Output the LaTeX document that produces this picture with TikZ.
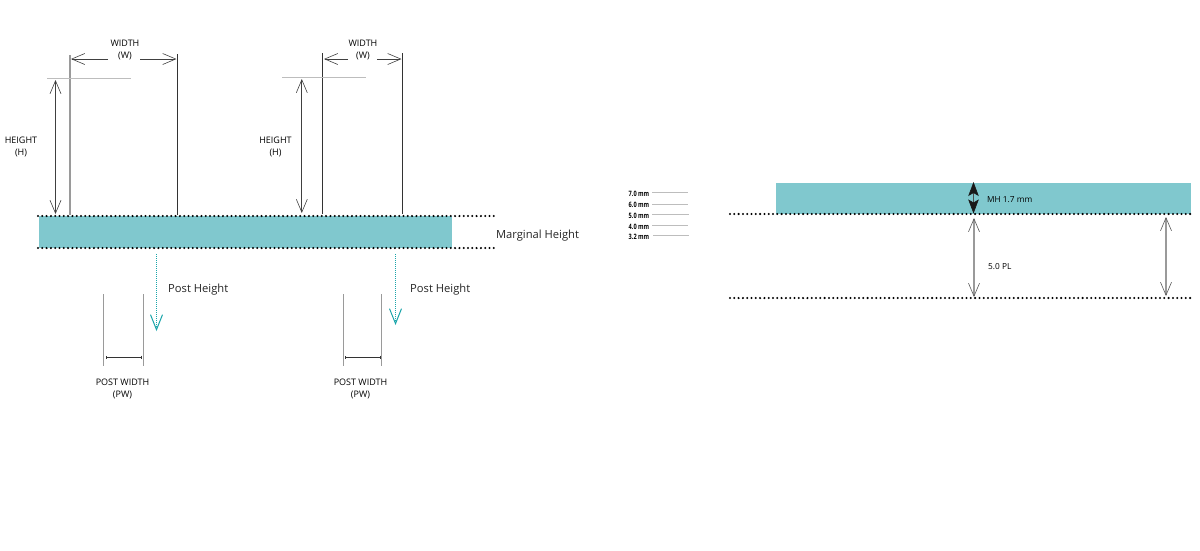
\documentclass[tikz,border=0pt]{standalone}
\usepackage{fontspec}
\setmainfont{Open Sans}
\usetikzlibrary{arrows.meta}
\definecolor{bandteal}{HTML}{80C8CE}
\definecolor{postteal}{HTML}{1AA5AA}
\definecolor{rulegray}{HTML}{BDBDBD}
\definecolor{inkgray}{HTML}{9A9A9A}
\tikzstyle{band} = [fill=bandteal, draw=none, inner sep=0pt, minimum height=32pt]
\tikzstyle{dots} = [line width=2.3pt, line cap=round, dash pattern=on 0pt off 4.3pt, black]
\tikzstyle{wall} = [line width=.7pt, black!80]
\tikzstyle{graywall} = [line width=1.2pt, inkgray]
\tikzstyle{guide} = [line width=.6pt, rulegray]
\tikzstyle{open} = [line width=.7pt, black!75, {Straight Barb[length=13pt,width=11pt,line width=.6pt]}-{Straight Barb[length=13pt,width=11pt,line width=.6pt]}]
\tikzstyle{opento} = [line width=.7pt, black!75, -{Straight Barb[length=13pt,width=11pt,line width=.6pt]}]
\tikzstyle{grayopen} = [line width=1.1pt, inkgray, {Straight Barb[length=13pt,width=11pt,line width=.6pt,black!65]}-{Straight Barb[length=13pt,width=11pt,line width=.6pt,black!65]}]
\tikzstyle{postarrow} = [line width=1pt, postteal, densely dotted, -{Straight Barb[length=15pt,width=12pt,line width=1pt]}]
\tikzstyle{tiny} = [inner sep=0pt, font=\fontsize{9}{12}\selectfont, align=center, black]
\tikzstyle{small} = [inner sep=0pt, font=\fontsize{8.3}{12}\selectfont, black]
\tikzstyle{big} = [inner sep=0pt, font=\fontsize{11.2}{13}\selectfont, black!85]
\tikzstyle{mm} = [inner sep=0pt, font=\fontsize{7.4}{8}\selectfont\bfseries, black]

\begin{document}
\begin{tikzpicture}[x=1pt, y=-1pt]
    \useasboundingbox (0,0) rectangle (1200,550);

    % left: bands
    \node [band, minimum width=413pt] (mband) at (245.5,232) {};
    \coordinate (topl) at (38,216);
    \coordinate (topr) at (496,216);
    \coordinate (botl) at (38,248);
    \coordinate (botr) at (496,248);
    \draw [dots] (topl) -- (topr);
    \draw [dots] (botl) -- (botr);
    \node [big] (marginal) at (537.5,235.5) {Marginal Height};

    % first tooth
    \coordinate (a1t) at (70,55);
    \coordinate (a1b) at (70,215);
    \coordinate (a2t) at (177,54);
    \coordinate (a2b) at (177,215);
    \draw [graywall] (a1t) -- (a1b);
    \draw [wall] (a2t) -- (a2b);
    \node [tiny] (widtha) at (125,49.5) {WIDTH\\(W)};
    \coordinate (wa1) at (108,59);
    \coordinate (wa2) at (71,59);
    \coordinate (wa3) at (140,59);
    \coordinate (wa4) at (176.5,59);
    \draw [opento] (wa1) -- (wa2);
    \draw [opento] (wa3) -- (wa4);
    \coordinate (ga1) at (47,78.5);
    \coordinate (ga2) at (131,78.5);
    \draw [guide] (ga1) -- (ga2);
    \coordinate (ha1) at (55.5,80);
    \coordinate (ha2) at (55.5,214);
    \draw [open] (ha1) -- (ha2);
    \node [tiny] (heighta) at (21,146.5) {HEIGHT\\(H)};

    % second tooth
    \coordinate (b1t) at (322.5,53);
    \coordinate (b1b) at (322.5,214);
    \coordinate (b2t) at (402.5,53);
    \coordinate (b2b) at (402.5,214);
    \draw [wall] (b1t) -- (b1b);
    \draw [wall] (b2t) -- (b2b);
    \node [tiny] (widthb) at (363,49.5) {WIDTH\\(W)};
    \coordinate (wb1) at (348,59);
    \coordinate (wb2) at (324,59);
    \coordinate (wb3) at (377,59);
    \coordinate (wb4) at (401.5,59);
    \draw [opento] (wb1) -- (wb2);
    \draw [opento] (wb3) -- (wb4);
    \coordinate (gb1) at (282,77.5);
    \coordinate (gb2) at (366,77.5);
    \draw [guide] (gb1) -- (gb2);
    \coordinate (hb1) at (301.8,79);
    \coordinate (hb2) at (301.8,213);
    \draw [open] (hb1) -- (hb2);
    \node [tiny] (heightb) at (275.5,146.5) {HEIGHT\\(H)};

    % posts
    \coordinate (pa1) at (156.5,254);
    \coordinate (pa2) at (156.5,331);
    \draw [postarrow] (pa1) -- (pa2);
    \node [big, anchor=west] (posta) at (168,289.5) {Post Height};
    \coordinate (pb1) at (395.5,254);
    \coordinate (pb2) at (395.5,325);
    \draw [postarrow] (pb1) -- (pb2);
    \node [big, anchor=west] (postb) at (410,289.5) {Post Height};

    \coordinate (qa1t) at (103.5,294);
    \coordinate (qa1b) at (103.5,366);
    \coordinate (qa2t) at (143.5,294);
    \coordinate (qa2b) at (143.5,366);
    \draw [graywall, line width=.9pt] (qa1t) -- (qa1b);
    \draw [graywall, line width=.9pt] (qa2t) -- (qa2b);
    \coordinate (ra1) at (106,357);
    \coordinate (ra2) at (141,357);
    \draw [wall, line width=.5pt, {Bar[width=3pt]}-{Bar[width=3pt]}] (ra1) -- (ra2);
    \node [tiny] (pwa) at (122.5,389) {POST WIDTH\\(PW)};

    \coordinate (qb1t) at (343,294);
    \coordinate (qb1b) at (343,366);
    \coordinate (qb2t) at (381,294);
    \coordinate (qb2b) at (381,366);
    \draw [graywall, line width=.9pt] (qb1t) -- (qb1b);
    \draw [graywall, line width=.9pt] (qb2t) -- (qb2b);
    \coordinate (rb1) at (345,357);
    \coordinate (rb2) at (380,357);
    \draw [wall, line width=.5pt, {Bar[width=3pt]}-{Bar[width=3pt]}] (rb1) -- (rb2);
    \node [tiny] (pwb) at (360.5,389) {POST WIDTH\\(PW)};

    % scale
    \node [mm] (m70) at (639,193.5) {\scalebox{.76}[1]{7.0 mm}};
    \node [mm] (m60) at (639,204.5) {\scalebox{.76}[1]{6.0 mm}};
    \node [mm] (m50) at (639,215.5) {\scalebox{.76}[1]{5.0 mm}};
    \node [mm] (m40) at (639,226.5) {\scalebox{.76}[1]{4.0 mm}};
    \node [mm] (m32) at (639,236.5) {\scalebox{.76}[1]{3.2 mm}};
    \coordinate (s70) at (688,192.5);
    \coordinate (s60) at (688,204);
    \coordinate (s50) at (688.5,214.5);
    \coordinate (s40) at (688,225);
    \coordinate (s32) at (689,235);
    \draw [guide] (652,192.5) -- (s70);
    \draw [guide] (652,204) -- (s60);
    \draw [guide] (652,214.5) -- (s50);
    \draw [guide] (652,225) -- (s40);
    \draw [guide] (653,235) -- (s32);

    % right: band
    \node [band, minimum width=415pt, minimum height=31pt] (rband) at (983.5,198.5) {};
    \coordinate (rtopl) at (730,214);
    \coordinate (rtopr) at (1191,214);
    \coordinate (rbotl) at (730,298);
    \coordinate (rbotr) at (1191,298);
    \draw [dots] (rtopl) -- (rtopr);
    \draw [dots] (rbotl) -- (rbotr);
    \coordinate (mh1) at (973.5,182);
    \coordinate (mh2) at (973.5,213.5);
    \draw [line width=.6pt, black!70, {Stealth[length=14pt,width=10.5pt,inset=3pt,black!90]}-{Stealth[length=14pt,width=10.5pt,inset=3pt,black!90]}] (mh1) -- (mh2);
    \node [small, anchor=west] (mhlabel) at (987,199.5) {MH 1.7 mm};
    \coordinate (pl1) at (974,218);
    \coordinate (pl2) at (974,297);
    \draw [grayopen] (pl1) -- (pl2);
    \node [small, anchor=west] (pllabel) at (988,266.5) {5.0 PL};
    \coordinate (pr1) at (1166,217);
    \coordinate (pr2) at (1166,296);
    \draw [grayopen] (pr1) -- (pr2);
\end{tikzpicture}
\end{document}
